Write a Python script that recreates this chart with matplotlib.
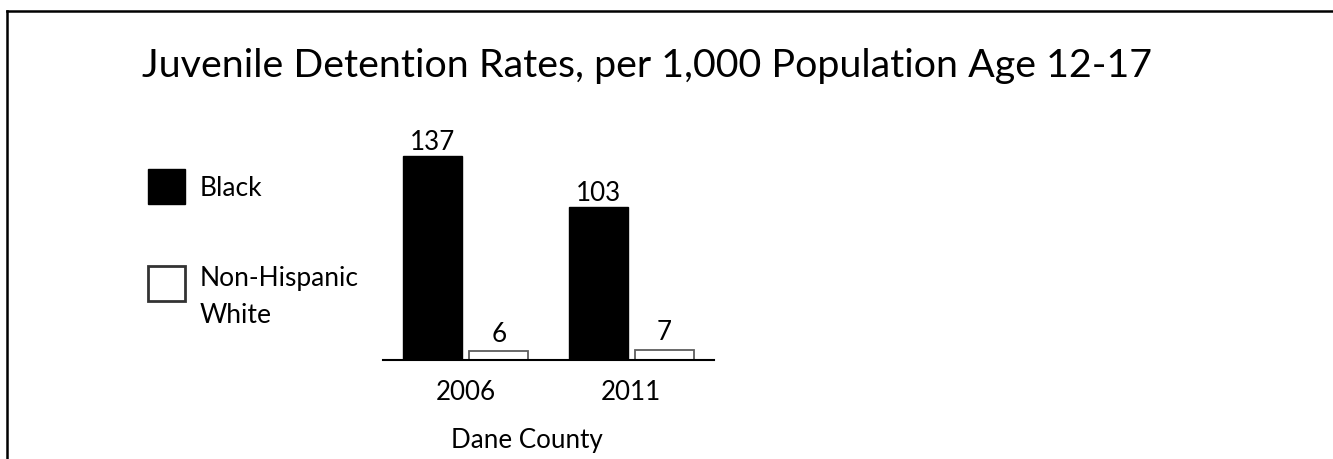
import matplotlib
matplotlib.use("Agg")
from matplotlib import pyplot as plt
from matplotlib.patches import Patch, Rectangle
from matplotlib.legend_handler import HandlerPatch

years = ['2006', '2011']
black_rates = [137, 103]
white_rates = [6, 7]
series_labels = ['Black', 'Non-Hispanic\nWhite']
title = 'Juvenile Detention Rates, per 1,000 Population Age 12-17'
xlabel = 'Dane County'

plt.rcParams['font.family'] = ['Lato', 'DejaVu Sans']

W, H = 1333, 460
FS = 18.7


class LiftedPatch(HandlerPatch):
    # square key that sits level with the first line of a two-line label
    def __init__(self, lift=0.0, **kw):
        super().__init__(**kw)
        self.lift = lift

    def create_artists(self, legend, orig_handle, xdescent, ydescent,
                       width, height, fontsize, trans):
        p = Rectangle((-xdescent, -ydescent + self.lift * fontsize), width, height)
        self.update_prop(p, orig_handle, legend)
        p.set_transform(trans)
        return [p]


fig = plt.figure(figsize=(W / 100, H / 100), dpi=100)
ax = fig.add_axes([383 / W, 99 / H, 331 / W, 223.5 / H])

x = range(len(years))
width = 0.355
offset = 0.2
b1 = ax.bar([i - offset for i in x], black_rates, width,
            color='black', edgecolor='black', linewidth=1)
b2 = ax.bar([i + offset for i in x], white_rates, width,
            color='white', edgecolor='#5e5e5e', linewidth=1.3)
ax.bar_label(b1, padding=1, fontsize=FS)
ax.bar_label(b2, padding=4, fontsize=FS)

ax.set_xlim(-0.5, 1.5)
ax.set_ylim(0, 150)
ax.set_xticks(list(x))
ax.set_xticklabels(years, fontsize=FS)
ax.set_yticks([])
ax.tick_params(axis='x', length=0, pad=14)
for s in ['top', 'left', 'right']:
    ax.spines[s].set_visible(False)
ax.spines['bottom'].set_linewidth(1.5)
ax.set_xlabel(xlabel, fontsize=FS, x=0.435, labelpad=16)

fig.text(142 / W, 1 - 77 / H, title, fontsize=28.4, va='baseline', ha='left')

handles = [Patch(facecolor='black', edgecolor='black', linewidth=1),
           Patch(facecolor='white', edgecolor='#333333', linewidth=2)]
leg = fig.legend(handles, series_labels, loc='upper left',
                 bbox_to_anchor=(148 / W, 1 - 170 / H),
                 frameon=False, fontsize=19, borderpad=0, borderaxespad=0,
                 handlelength=1.40, handleheight=1.663, handletextpad=0.57,
                 labelspacing=2.3,
                 handler_map={handles[0]: HandlerPatch(),
                              handles[1]: LiftedPatch(lift=0.5)})
for t in leg.get_texts():
    t.set_linespacing(1.6)

# page frame: left and top edges only
fig.add_artist(plt.Line2D([7 / W, 7 / W], [0, 1 - 12 / H], color='black',
                          linewidth=1.8, transform=fig.transFigure))
fig.add_artist(plt.Line2D([7 / W, 1], [1 - 12 / H, 1 - 12 / H], color='black',
                          linewidth=1.8, transform=fig.transFigure))

fig.savefig('out.png', dpi=100, facecolor='white')
